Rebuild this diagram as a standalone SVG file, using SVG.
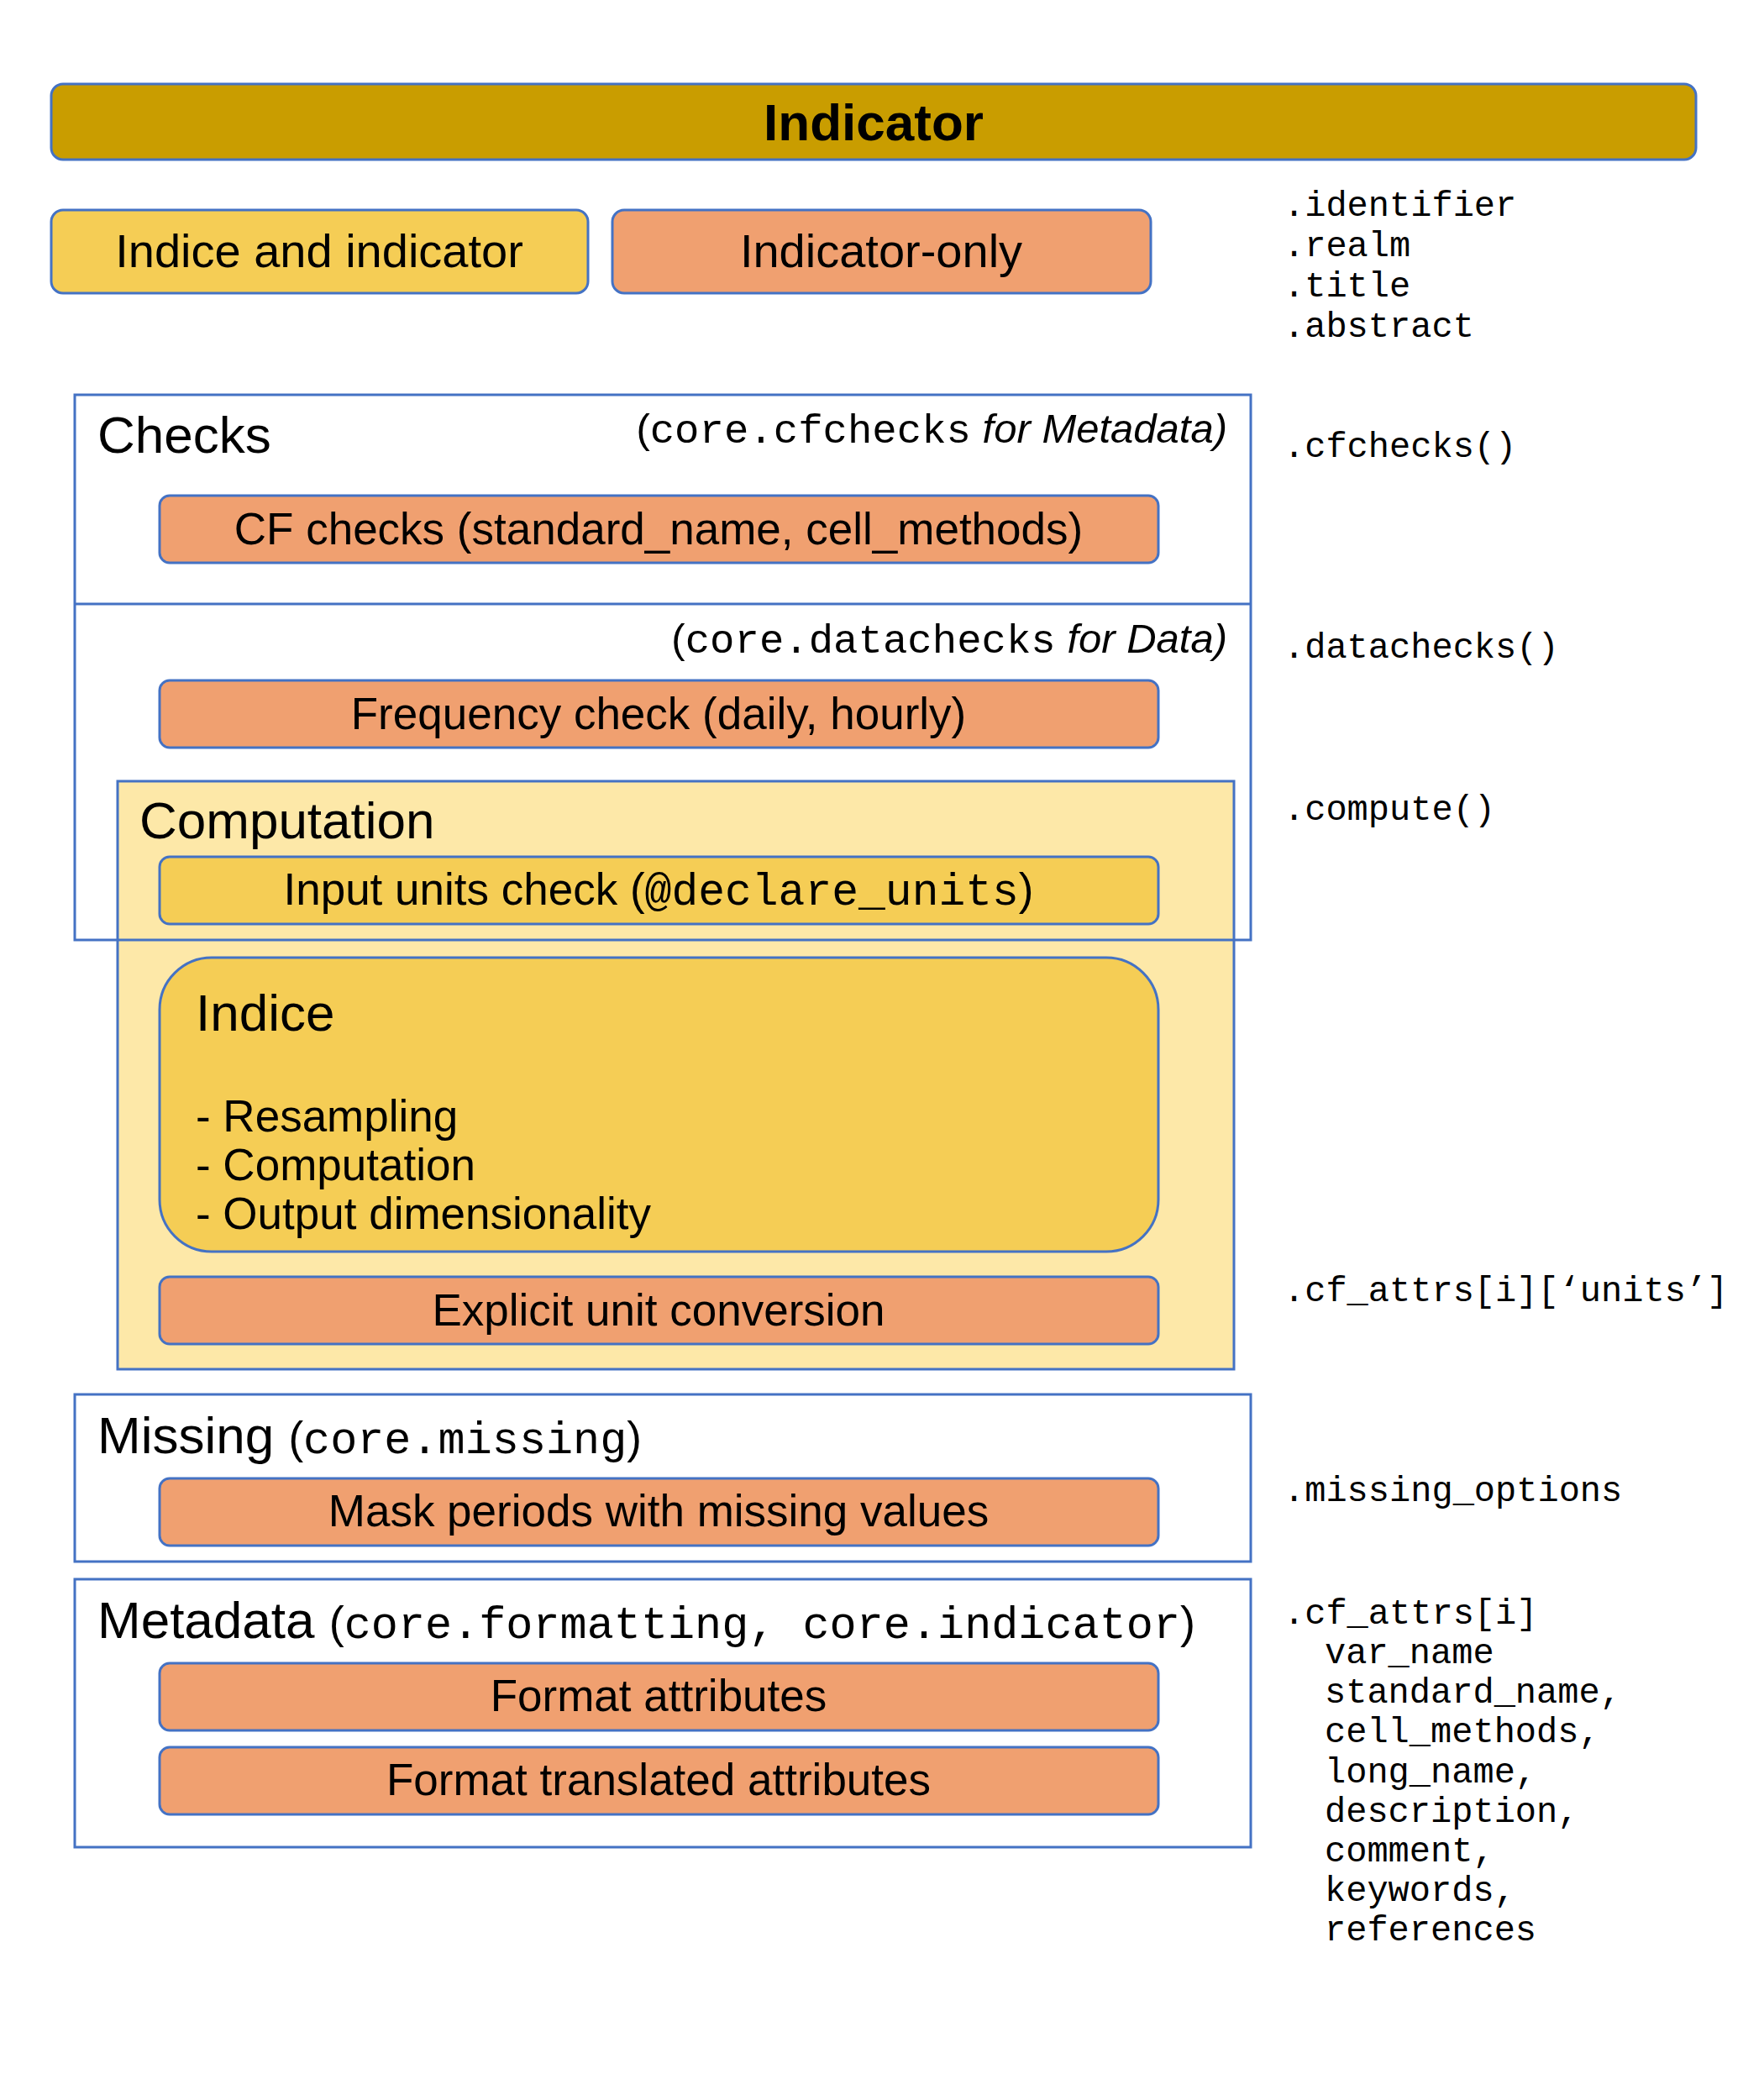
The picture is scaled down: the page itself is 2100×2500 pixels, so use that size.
<svg xmlns="http://www.w3.org/2000/svg" width="2100" height="2500" viewBox="0 0 2100 2500">
<style>
.box{stroke:#4472C4;stroke-width:3}
.gold{fill:#C99D00}
.yel{fill:#F5CD55}
.org{fill:#F0A070}
.pale{fill:#FDE8A8}
.frame{fill:none;stroke:#4472C4;stroke-width:3}
.sans{font-family:"Liberation Sans",Arial,sans-serif;fill:#000}
.mono{font-family:"Liberation Mono","Courier New",monospace;fill:#000}
.lbl{font-size:53px;text-anchor:middle}
.top{font-size:56px;text-anchor:middle}
.hdr{font-size:62px}
.attr{font-size:42px}
.note{font-size:49px;text-anchor:end}
.it{font-style:italic}
</style>
<rect x="0" y="0" width="2100" height="2500" fill="#FFFFFF"/>

<g id="indicator">
  <rect class="box gold" x="61" y="100" width="1958" height="90" rx="14"/>
  <text class="sans" x="1040" y="167" font-size="62" font-weight="bold" text-anchor="middle">Indicator</text>
</g>

<g id="legend-indice-and-indicator">
  <rect class="box yel" x="61" y="250" width="639" height="99" rx="14"/>
  <text class="sans top" x="380" y="318">Indice and indicator</text>
</g>
<g id="legend-indicator-only">
  <rect class="box org" x="729" y="250" width="641" height="99" rx="14"/>
  <text class="sans top" x="1049" y="318">Indicator-only</text>
</g>

<g id="attributes">
  <text class="mono attr" x="1528" y="257">.identifier</text>
  <text class="mono attr" x="1528" y="305">.realm</text>
  <text class="mono attr" x="1528" y="353">.title</text>
  <text class="mono attr" x="1528" y="401">.abstract</text>
  <text class="mono attr" x="1528" y="544">.cfchecks()</text>
  <text class="mono attr" x="1528" y="783">.datachecks()</text>
  <text class="mono attr" x="1528" y="976">.compute()</text>
  <text class="mono attr" x="1528" y="1549">.cf_attrs[i][‘units’]</text>
  <text class="mono attr" x="1528" y="1787">.missing_options</text>
  <text class="mono attr" x="1528" y="1933">.cf_attrs[i]</text>
  <text class="mono attr" x="1577" y="1980">var_name</text>
  <text class="mono attr" x="1577" y="2027">standard_name,</text>
  <text class="mono attr" x="1577" y="2074">cell_methods,</text>
  <text class="mono attr" x="1577" y="2122">long_name,</text>
  <text class="mono attr" x="1577" y="2169">description,</text>
  <text class="mono attr" x="1577" y="2216">comment,</text>
  <text class="mono attr" x="1577" y="2263">keywords,</text>
  <text class="mono attr" x="1577" y="2310">references</text>
</g>

<g id="computation">
  <rect class="box pale" x="140" y="930" width="1329" height="700"/>
  <text class="sans hdr" x="166" y="998">Computation</text>
</g>

<g id="checks">
  <rect class="frame" x="89" y="470" width="1400" height="649"/>
  <line class="frame" x1="89" y1="719" x2="1489" y2="719"/>
  <text class="sans hdr" x="116" y="539">Checks</text>
  <text class="sans note" x="1461" y="527">(<tspan class="mono">core.cfchecks</tspan><tspan class="it"> for Metadata)</tspan></text>
  <text class="sans note" x="1461" y="777">(<tspan class="mono">core.datachecks</tspan><tspan class="it"> for Data)</tspan></text>
</g>

<g id="cf-checks">
  <rect class="box org" x="190" y="590" width="1189" height="80" rx="12"/>
  <text class="sans lbl" x="784" y="648">CF checks (standard_name, cell_methods)</text>
</g>
<g id="frequency-check">
  <rect class="box org" x="190" y="810" width="1189" height="80" rx="12"/>
  <text class="sans lbl" x="784" y="868">Frequency check (daily, hourly)</text>
</g>
<g id="input-units-check">
  <rect class="box yel" x="190" y="1020" width="1189" height="80" rx="12"/>
  <text class="sans lbl" x="784" y="1077">Input units check (<tspan class="mono">@declare_units</tspan>)</text>
</g>
<g id="indice">
  <rect class="box yel" x="190" y="1140" width="1189" height="350" rx="62"/>
  <text class="sans hdr" x="233" y="1227">Indice</text>
  <text class="sans" font-size="53" x="233" y="1347">- Resampling</text>
  <text class="sans" font-size="53" x="233" y="1405">- Computation</text>
  <text class="sans" font-size="53" x="233" y="1463">- Output dimensionality</text>
</g>
<g id="unit-conversion">
  <rect class="box org" x="190" y="1520" width="1189" height="80" rx="12"/>
  <text class="sans lbl" x="784" y="1578">Explicit unit conversion</text>
</g>

<g id="missing">
  <rect class="frame" x="89" y="1660" width="1400" height="199"/>
  <text class="sans hdr" x="116" y="1730">Missing <tspan font-size="53">(</tspan><tspan class="mono" font-size="53.5">core.missing</tspan><tspan font-size="53">)</tspan></text>
</g>
<g id="mask-periods">
  <rect class="box org" x="190" y="1760" width="1189" height="80" rx="12"/>
  <text class="sans lbl" x="784" y="1817">Mask periods with missing values</text>
</g>

<g id="metadata">
  <rect class="frame" x="89" y="1880" width="1400" height="319"/>
  <text class="sans hdr" x="116" y="1950">Metadata <tspan font-size="54">(</tspan><tspan class="mono" font-size="53.5">core.formatting, core.indicator</tspan><tspan font-size="54">)</tspan></text>
</g>
<g id="format-attributes">
  <rect class="box org" x="190" y="1980" width="1189" height="80" rx="12"/>
  <text class="sans lbl" x="784" y="2037">Format attributes</text>
</g>
<g id="format-translated">
  <rect class="box org" x="190" y="2080" width="1189" height="80" rx="12"/>
  <text class="sans lbl" x="784" y="2137">Format translated attributes</text>
</g>

<g id="connectors"></g>
</svg>
